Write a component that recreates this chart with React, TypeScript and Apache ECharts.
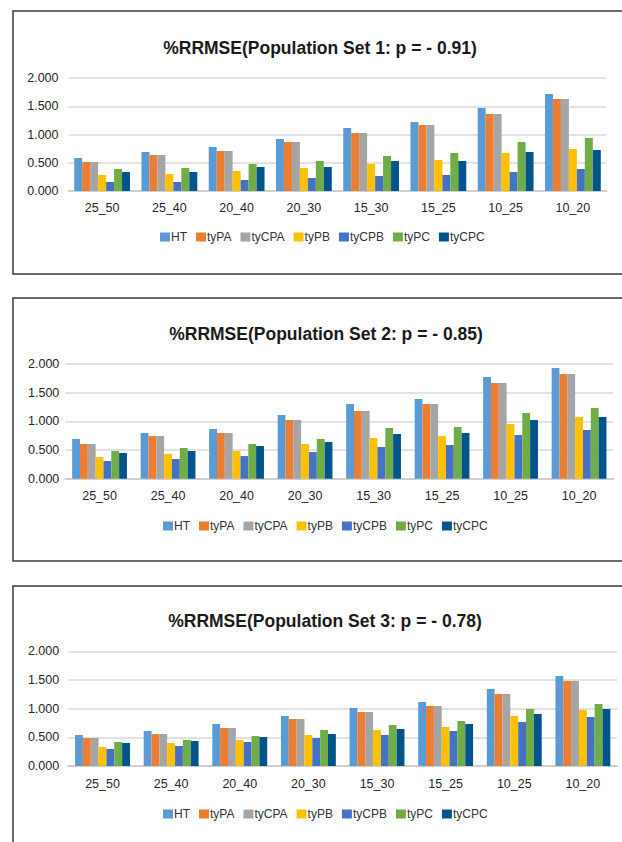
import React, { useEffect, useRef } from "react";
import * as echarts from "echarts";

const categories = ["25_50", "25_40", "20_40", "20_30", "15_30", "15_25", "10_25", "10_20"];
const seriesNames = ["HT", "tyPA", "tyCPA", "tyPB", "tyCPB", "tyPC", "tyCPC"];
const colors = ["#5B9BD5", "#ED7D31", "#A5A5A5", "#FFC000", "#4472C4", "#70AD47", "#00548C"];
const titles = [
  "%RRMSE(Population Set 1: p = - 0.91)",
  "%RRMSE(Population Set 2: p = - 0.85)",
  "%RRMSE(Population Set 3: p = - 0.78)",
];

// Population Set 1 (rows follow seriesNames)
const set1HT = [0.584, 0.69, 0.779, 0.92, 1.115, 1.221, 1.469, 1.717];
const set1tyPA = [0.513, 0.637, 0.708, 0.867, 1.027, 1.168, 1.363, 1.628];
const set1tyCPA = [0.513, 0.637, 0.708, 0.867, 1.027, 1.168, 1.363, 1.628];
const set1tyPB = [0.283, 0.3, 0.354, 0.407, 0.478, 0.549, 0.673, 0.743];
const set1tyCPB = [0.16, 0.16, 0.195, 0.23, 0.265, 0.283, 0.336, 0.39];
const set1tyPC = [0.39, 0.407, 0.478, 0.531, 0.62, 0.673, 0.867, 0.938];
const set1tyCPC = [0.336, 0.336, 0.425, 0.425, 0.531, 0.531, 0.69, 0.726];

// Population Set 2
const set2HT = [0.692, 0.797, 0.866, 1.11, 1.302, 1.39, 1.773, 1.93];
const set2tyPA = [0.605, 0.744, 0.797, 1.023, 1.18, 1.302, 1.669, 1.826];
const set2tyCPA = [0.605, 0.744, 0.797, 1.023, 1.18, 1.302, 1.669, 1.826];
const set2tyPB = [0.378, 0.43, 0.483, 0.605, 0.709, 0.744, 0.953, 1.076];
const set2tyCPB = [0.308, 0.343, 0.395, 0.465, 0.552, 0.587, 0.762, 0.849];
const set2tyPC = [0.483, 0.535, 0.605, 0.692, 0.884, 0.901, 1.145, 1.233];
const set2tyCPC = [0.448, 0.483, 0.57, 0.64, 0.779, 0.797, 1.023, 1.076];

// Population Set 3
const set3HT = [0.541, 0.61, 0.733, 0.872, 1.012, 1.116, 1.343, 1.57];
const set3tyPA = [0.488, 0.558, 0.663, 0.82, 0.942, 1.047, 1.256, 1.483];
const set3tyCPA = [0.488, 0.558, 0.663, 0.82, 0.942, 1.047, 1.256, 1.483];
const set3tyPB = [0.331, 0.401, 0.453, 0.541, 0.628, 0.68, 0.872, 0.977];
const set3tyCPB = [0.297, 0.349, 0.419, 0.488, 0.541, 0.61, 0.767, 0.855];
const set3tyPC = [0.419, 0.453, 0.523, 0.628, 0.715, 0.785, 0.994, 1.081];
const set3tyCPC = [0.401, 0.436, 0.506, 0.558, 0.645, 0.733, 0.907, 0.994];

const sets = [
  [set1HT, set1tyPA, set1tyCPA, set1tyPB, set1tyCPB, set1tyPC, set1tyCPC],
  [set2HT, set2tyPA, set2tyCPA, set2tyPB, set2tyCPB, set2tyPC, set2tyCPC],
  [set3HT, set3tyPA, set3tyCPA, set3tyPB, set3tyCPB, set3tyPC, set3tyCPC],
];

// layout per panel
const panels = [
  { boxTop: 11, boxH: 263, titleX: 320, titleY: 48, gl: 68.5, gw: 538, gt: 78, gh: 113, lm: 10, xm: 10, legX: 160, legY: 237, catGap: "17%" },
  { boxTop: 298, boxH: 263, titleX: 326, titleY: 334, gl: 65.3, gw: 548, gt: 364, gh: 114.7, lm: 6, xm: 11, legX: 163, legY: 526, catGap: "20%" },
  { boxTop: 586, boxH: 300, titleX: 325, titleY: 621, gl: 68.2, gw: 549, gt: 651.3, gh: 114.7, lm: 9, xm: 11, legX: 163, legY: 814, catGap: "20%" },
];

const FONT = "'Liberation Sans', Arial, sans-serif";

export default function App() {
  const ref = useRef<HTMLDivElement>(null);
  useEffect(() => {
    if (!ref.current) return;
    const chart = echarts.init(ref.current, null, { renderer: "svg" });
    const grids: any[] = [];
    const xAxes: any[] = [];
    const yAxes: any[] = [];
    const legends: any[] = [];
    const series: any[] = [];
    const graphics: any[] = [];
    panels.forEach((p, k) => {
      graphics.push({
        type: "rect",
        shape: { x: 13, y: p.boxTop, width: 700, height: p.boxH },
        style: { fill: "none", stroke: "#3a3a3a", lineWidth: 1.5 },
        silent: true,
        z: 0,
      });
      graphics.push({
        type: "text",
        x: p.titleX,
        y: p.titleY,
        style: {
          text: titles[k],
          fill: "#1a1a1a",
          font: `bold 17.5px ${FONT}`,
          align: "center",
          verticalAlign: "middle",
        },
      });
      grids.push({ left: p.gl, top: p.gt, width: p.gw, height: p.gh, containLabel: false });
      xAxes.push({
        type: "category",
        gridIndex: k,
        data: categories,
        axisTick: { show: false },
        axisLine: { show: true, lineStyle: { color: "#cfcfcf", width: 2 } },
        axisLabel: { color: "#262626", fontSize: 12.5, fontFamily: FONT, margin: p.xm },
      });
      yAxes.push({
        type: "value",
        gridIndex: k,
        min: 0,
        max: 2,
        interval: 0.5,
        axisLine: { show: false },
        axisTick: { show: false },
        splitLine: { show: true, lineStyle: { color: "#d9d9d9", width: 1.5 } },
        axisLabel: {
          color: "#262626",
          fontSize: 12.5,
          fontFamily: FONT,
          margin: p.lm,
          formatter: (v: number) => v.toFixed(3),
        },
      });
      legends.push({
        left: p.legX,
        top: p.legY - 7,
        padding: 0,
        itemGap: 9,
        itemWidth: 10,
        itemHeight: 9,
        icon: "rect",
        data: seriesNames,
        selectedMode: false,
        textStyle: { color: "#333333", fontSize: 12, fontFamily: FONT, lineHeight: 14, padding: [0, 0, 0, -4] },
      });
      seriesNames.forEach((name, i) => {
        series.push({
          type: "bar",
          name,
          xAxisIndex: k,
          yAxisIndex: k,
          data: sets[k][i],
          itemStyle: { color: colors[i] },
          barGap: "0%",
          barCategoryGap: p.catGap,
        });
      });
    });
    chart.setOption({
      animation: false,
      backgroundColor: "#ffffff",
      grid: grids,
      xAxis: xAxes,
      yAxis: yAxes,
      legend: legends,
      series,
      graphic: graphics,
    });
    return () => chart.dispose();
  }, []);
  return (
    <div
      ref={ref}
      style={{ position: "fixed", left: 0, top: 0, width: 622, height: 842, background: "#fff" }}
    />
  );
}
